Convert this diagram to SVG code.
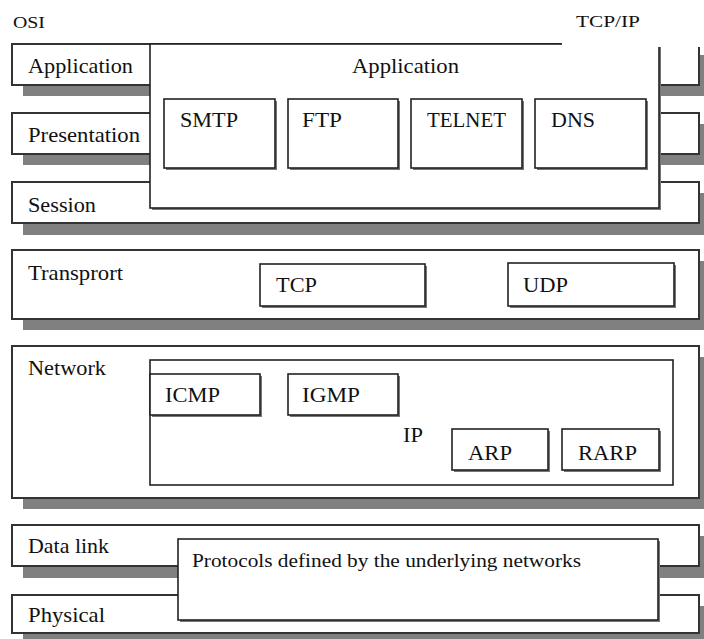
<svg xmlns="http://www.w3.org/2000/svg" width="704" height="639" viewBox="0 0 704 639">
<style>
.bg{fill:#ffffff}
.sh{fill:#808080}
.layer{fill:#ffffff;stroke:#333333;stroke-width:2}
.box{fill:#ffffff;stroke:#222222;stroke-width:1.6}
.ish{fill:#777777}
.t{font-family:"Liberation Serif","Times New Roman",serif;font-size:21px;fill:#111111}
.s{font-family:"Liberation Serif","Times New Roman",serif;font-size:17px;fill:#111111}
.p{font-family:"Liberation Serif","Times New Roman",serif;font-size:18px;fill:#111111}
</style>
<rect class="bg" x="0" y="0" width="704" height="639"/>

<g id="osi-title"><text class="s" x="13" y="28" textLength="32" lengthAdjust="spacingAndGlyphs">OSI</text></g>

<g id="osi-application">
<rect class="sh" x="23" y="55" width="690" height="41"/>
<rect class="layer" x="12" y="44" width="687" height="41"/>
<text class="t" x="28" y="73" textLength="105" lengthAdjust="spacingAndGlyphs">Application</text>
</g>
<g id="osi-presentation">
<rect class="sh" x="23" y="124" width="690" height="41"/>
<rect class="layer" x="12" y="113" width="687" height="41"/>
<text class="t" x="28" y="142" textLength="112" lengthAdjust="spacingAndGlyphs">Presentation</text>
</g>
<g id="osi-session">
<rect class="sh" x="23" y="193" width="690" height="42"/>
<rect class="layer" x="12" y="182" width="687" height="41"/>
<text class="t" x="28" y="212" textLength="68" lengthAdjust="spacingAndGlyphs">Session</text>
</g>
<g id="osi-transport">
<rect class="sh" x="23" y="261" width="690" height="69"/>
<rect class="layer" x="12" y="250" width="687" height="69"/>
<text class="t" x="28" y="280" textLength="95" lengthAdjust="spacingAndGlyphs">Transprort</text>
</g>
<g id="osi-network">
<rect class="sh" x="23" y="357" width="690" height="152"/>
<rect class="layer" x="12" y="346" width="687" height="152"/>
<text class="t" x="28" y="375" textLength="78" lengthAdjust="spacingAndGlyphs">Network</text>
</g>
<g id="osi-datalink">
<rect class="sh" x="23" y="536" width="690" height="42"/>
<rect class="layer" x="12" y="525" width="687" height="41"/>
<text class="t" x="28" y="553" textLength="81" lengthAdjust="spacingAndGlyphs">Data link</text>
</g>
<g id="osi-physical">
<rect class="sh" x="23" y="606" width="690" height="40"/>
<rect class="layer" x="12" y="595" width="687" height="38"/>
<text class="t" x="28" y="622" textLength="77" lengthAdjust="spacingAndGlyphs">Physical</text>
</g>

<g id="tcpip-application">
<rect class="ish" x="152" y="46" width="509" height="164"/>
<rect class="box" x="150" y="44" width="509" height="164"/>
<text class="t" x="352" y="73" textLength="107" lengthAdjust="spacingAndGlyphs">Application</text>
</g>
<g id="smtp">
<rect class="ish" x="166" y="101" width="111" height="69"/>
<rect class="box" x="164" y="99" width="111" height="69"/>
<text class="t" x="180" y="127" textLength="58" lengthAdjust="spacingAndGlyphs">SMTP</text>
</g>
<g id="ftp">
<rect class="ish" x="290" y="101" width="110" height="69"/>
<rect class="box" x="288" y="99" width="110" height="69"/>
<text class="t" x="302" y="127" textLength="40" lengthAdjust="spacingAndGlyphs">FTP</text>
</g>
<g id="telnet">
<rect class="ish" x="413" y="101" width="111" height="69"/>
<rect class="box" x="411" y="99" width="111" height="69"/>
<text class="t" x="427" y="127" textLength="79" lengthAdjust="spacingAndGlyphs">TELNET</text>
</g>
<g id="dns">
<rect class="ish" x="537" y="101" width="111" height="69"/>
<rect class="box" x="535" y="99" width="111" height="69"/>
<text class="t" x="551" y="127" textLength="44" lengthAdjust="spacingAndGlyphs">DNS</text>
</g>

<g id="tcpip-title">
<rect class="bg" x="562" y="30" width="142" height="17"/>
<text class="s" x="576" y="27" textLength="64" lengthAdjust="spacingAndGlyphs">TCP/IP</text>
</g>

<g id="tcp">
<rect class="ish" x="262" y="266" width="165" height="42"/>
<rect class="box" x="260" y="264" width="165" height="42"/>
<text class="t" x="276" y="292" textLength="41" lengthAdjust="spacingAndGlyphs">TCP</text>
</g>
<g id="udp">
<rect class="ish" x="510" y="265" width="166" height="43"/>
<rect class="box" x="508" y="263" width="166" height="43"/>
<text class="t" x="523" y="292" textLength="45" lengthAdjust="spacingAndGlyphs">UDP</text>
</g>

<g id="ip">
<rect class="box" x="150" y="360" width="523" height="125"/>
<text class="t" x="403" y="442" textLength="20" lengthAdjust="spacingAndGlyphs">IP</text>
</g>
<g id="icmp">
<rect class="ish" x="152" y="376" width="110" height="41"/>
<rect class="box" x="150" y="374" width="110" height="41"/>
<text class="t" x="165" y="402" textLength="55" lengthAdjust="spacingAndGlyphs">ICMP</text>
</g>
<g id="igmp">
<rect class="ish" x="290" y="376" width="110" height="41"/>
<rect class="box" x="288" y="374" width="110" height="41"/>
<text class="t" x="302" y="402" textLength="58" lengthAdjust="spacingAndGlyphs">IGMP</text>
</g>
<g id="arp">
<rect class="ish" x="454" y="431" width="96" height="41"/>
<rect class="box" x="452" y="429" width="96" height="41"/>
<text class="t" x="468" y="460" textLength="44" lengthAdjust="spacingAndGlyphs">ARP</text>
</g>
<g id="rarp">
<rect class="ish" x="564" y="431" width="97" height="41"/>
<rect class="box" x="562" y="429" width="97" height="41"/>
<text class="t" x="578" y="460" textLength="59" lengthAdjust="spacingAndGlyphs">RARP</text>
</g>

<g id="underlying">
<rect class="ish" x="180" y="541" width="480" height="81"/>
<rect class="box" x="178" y="539" width="480" height="81"/>
<text class="p" x="192" y="567" textLength="389" lengthAdjust="spacingAndGlyphs">Protocols defined by the underlying networks</text>
</g>
</svg>
